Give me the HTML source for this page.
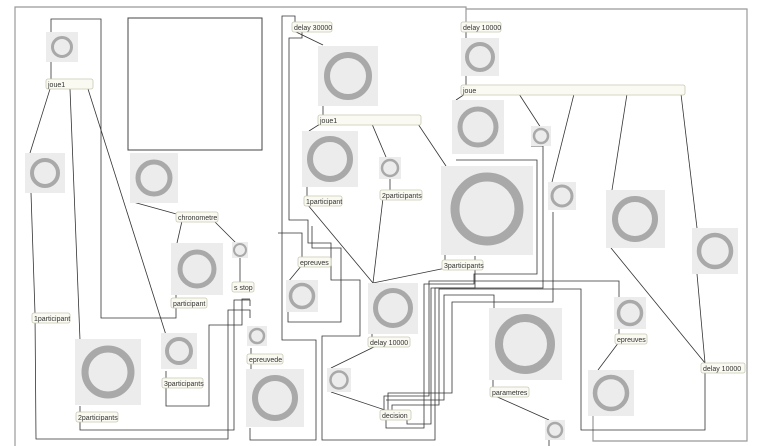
<!DOCTYPE html>
<html><head><meta charset="utf-8"><style>
html,body{margin:0;padding:0;background:#fff;}
svg{display:block;}
text{font-family:"Liberation Sans",sans-serif;font-size:7px;fill:#333;}
.o{fill:#fafaf2;stroke:#c9c9b5;stroke-width:0.8;}
.bg{fill:#ececec;}
.r{fill:none;stroke:#a9a9a9;}
.w{fill:none;stroke:#333;stroke-width:0.8;}
.f{fill:none;stroke:#999;stroke-width:1.2;}
</style></head><body>
<svg width="768" height="446" viewBox="0 0 768 446" xmlns="http://www.w3.org/2000/svg">
<!-- frames -->
<polyline class="f" points="15,446 15,7 466,7 466,22"/>
<polyline class="f" points="466,9 747,9 747,441 593,441 593,416"/>
<rect x="128" y="18" width="134" height="132" fill="none" stroke="#444" stroke-width="1"/>

<!-- wires -->
<g class="w">
<polyline points="51,79 51,19 101,19 101,318 176,318 176,306"/>
<line x1="50" y1="89" x2="30" y2="153"/>
<line x1="70" y1="89" x2="80" y2="340"/>
<line x1="88" y1="89" x2="166" y2="335"/>
<polyline points="31,193 35,313 36,439 228,439 228,310 250,310 250,318"/>
<polyline points="80,420 80,430 234,430 234,300 250,300 250,306"/>
<polyline points="166,386 166,406 209,406 209,325 242,325 242,299 250,299"/>
<line x1="133" y1="202" x2="180" y2="215"/>
<line x1="214" y1="221" x2="236" y2="243"/>
<line x1="182" y1="221" x2="177" y2="243"/>
<line x1="240" y1="258" x2="240" y2="282"/>
<line x1="176" y1="295" x2="176" y2="298"/>
<line x1="166" y1="371" x2="166" y2="378"/>
<line x1="80" y1="406" x2="80" y2="412"/>
<line x1="251" y1="348" x2="251" y2="354"/>
<line x1="251" y1="362" x2="251" y2="370"/>
<polyline points="295,22 295,16 282,16 282,340 316,340 316,440 250,440 250,428"/>
<line x1="294" y1="31" x2="323" y2="45"/>
<polyline points="302,31 302,38 289,38 289,220 308,220 308,243 331,243 331,280 360,280 360,336 322,336 322,440 435,440 435,288 475,288 475,256"/>
<polyline points="278,233 302,233 302,257"/>
<polyline points="288,312 288,322 341,322 341,248 312,248 312,226"/>
<line x1="302" y1="265" x2="288" y2="282"/>
<line x1="323" y1="106" x2="323" y2="115"/>
<line x1="320" y1="124" x2="309" y2="131"/>
<line x1="372" y1="124" x2="386" y2="157"/>
<line x1="418" y1="124" x2="446" y2="166"/>
<line x1="307" y1="187" x2="307" y2="196"/>
<line x1="390" y1="179" x2="390" y2="190"/>
<line x1="307" y1="204" x2="373" y2="283"/>
<line x1="383" y1="198" x2="373" y2="283"/>
<line x1="446" y1="268" x2="373" y2="283"/>
<line x1="445" y1="255" x2="445" y2="260"/>
<line x1="372" y1="334" x2="372" y2="337"/>
<line x1="378" y1="345" x2="331" y2="368"/>
<line x1="331" y1="392" x2="385" y2="410"/>
<line x1="493" y1="395" x2="549" y2="420"/>
<line x1="493" y1="380" x2="493" y2="387"/>
<line x1="549" y1="440" x2="549" y2="446"/>
<!-- decision bundle -->
<polyline points="456,160 537,160 537,274 474,274 474,284 424,284 424,428 386,428 386,418"/>
<polyline points="531,146 543,146 543,288 431,288 431,424 407,424 407,418"/>
<polyline points="553,212 553,302 452,302 452,393 388,393 388,410"/>
<polyline points="619,297 619,281 429,281 429,396 384,396 384,410"/>
<polyline points="705,371 705,430 581,430 581,289 439,289 439,405 392,405 392,410"/>
<polyline points="494,308 494,295 444,295 444,400 386,400"/>
<!-- right -->
<line x1="466" y1="30" x2="466" y2="38"/>
<line x1="466" y1="76" x2="466" y2="85"/>
<line x1="465" y1="94" x2="456" y2="100"/>
<line x1="519" y1="94" x2="541" y2="128"/>
<line x1="574" y1="94" x2="552" y2="182"/>
<line x1="627" y1="94" x2="612" y2="190"/>
<line x1="681" y1="94" x2="697" y2="228"/>
<line x1="697" y1="274" x2="705" y2="363"/>
<line x1="611" y1="248" x2="705" y2="363"/>
<line x1="619" y1="329" x2="619" y2="334"/>
<line x1="619" y1="342" x2="598" y2="370"/>
</g>

<!-- buttons -->
<g>
<rect class="bg" x="46" y="32" width="32" height="30"/><circle class="r" cx="62" cy="47" r="9.5" stroke-width="3"/>
<rect class="bg" x="25" y="153" width="40" height="40"/><circle class="r" cx="45" cy="173" r="13" stroke-width="4"/>
<rect class="bg" x="130" y="153" width="48" height="50"/><circle class="r" cx="154" cy="178" r="16" stroke-width="5"/>
<rect class="bg" x="171" y="243" width="52" height="52"/><circle class="r" cx="197" cy="269" r="17" stroke-width="5"/>
<rect class="bg" x="232" y="242" width="16" height="16"/><circle class="r" cx="240" cy="250" r="6" stroke-width="2"/>
<rect class="bg" x="161" y="333" width="36" height="36"/><circle class="r" cx="179" cy="351" r="12" stroke-width="4"/>
<rect class="bg" x="75" y="339" width="66" height="66"/><circle class="r" cx="108" cy="372" r="23" stroke-width="7"/>
<rect class="bg" x="247" y="326" width="20" height="20"/><circle class="r" cx="257" cy="336" r="7" stroke-width="2.5"/>
<rect class="bg" x="246" y="369" width="58" height="58"/><circle class="r" cx="275" cy="398" r="20" stroke-width="6"/>
<rect class="bg" x="318" y="46" width="60" height="60"/><circle class="r" cx="348" cy="76" r="21" stroke-width="6"/>
<rect class="bg" x="302" y="131" width="56" height="56"/><circle class="r" cx="330" cy="159" r="20" stroke-width="6"/>
<rect class="bg" x="379" y="157" width="22" height="22"/><circle class="r" cx="390" cy="168" r="8" stroke-width="2.5"/>
<rect class="bg" x="286" y="280" width="32" height="32"/><circle class="r" cx="302" cy="296" r="11.5" stroke-width="3.5"/>
<rect class="bg" x="368" y="283" width="50" height="51"/><circle class="r" cx="393" cy="308" r="17.5" stroke-width="5"/>
<rect class="bg" x="327" y="368" width="24" height="24"/><circle class="r" cx="339" cy="380" r="8.5" stroke-width="2.5"/>
<rect class="bg" x="441" y="166" width="92" height="89"/><circle class="r" cx="487" cy="209" r="32" stroke-width="9"/>
<rect class="bg" x="461" y="38" width="38" height="38"/><circle class="r" cx="480" cy="57" r="13" stroke-width="4"/>
<rect class="bg" x="452" y="100" width="52" height="54"/><circle class="r" cx="478" cy="127" r="18" stroke-width="5"/>
<rect class="bg" x="531" y="126" width="20" height="20"/><circle class="r" cx="541" cy="136" r="7" stroke-width="2.5"/>
<rect class="bg" x="548" y="182" width="28" height="28"/><circle class="r" cx="562" cy="196" r="10" stroke-width="3"/>
<rect class="bg" x="606" y="190" width="59" height="58"/><circle class="r" cx="635" cy="219" r="20" stroke-width="6"/>
<rect class="bg" x="692" y="228" width="46" height="46"/><circle class="r" cx="715" cy="251" r="16" stroke-width="4.5"/>
<rect class="bg" x="489" y="308" width="73" height="72"/><circle class="r" cx="525" cy="344" r="26" stroke-width="8"/>
<rect class="bg" x="614" y="297" width="32" height="32"/><circle class="r" cx="630" cy="313" r="11.5" stroke-width="3.5"/>
<rect class="bg" x="588" y="370" width="46" height="46"/><circle class="r" cx="611" cy="393" r="16" stroke-width="4.5"/>
<rect class="bg" x="545" y="420" width="20" height="20"/><circle class="r" cx="555" cy="430" r="7" stroke-width="2.5"/>
</g>

<!-- objects -->
<g>
<rect class="o" x="46" y="79" width="47" height="10" rx="2"/><text x="48" y="87">joue1</text>
<rect class="o" x="176" y="212" width="42" height="10" rx="2"/><text x="178" y="220">chronometre</text>
<rect class="o" x="232" y="282" width="22" height="10" rx="2"/><text x="234" y="290">s stop</text>
<rect class="o" x="171" y="298" width="36" height="10" rx="2"/><text x="173" y="306">participant</text>
<rect class="o" x="32" y="313" width="38" height="10" rx="2"/><text x="34" y="321">1participant</text>
<rect class="o" x="162" y="378" width="41" height="10" rx="2"/><text x="164" y="386">3participants</text>
<rect class="o" x="76" y="412" width="42" height="10" rx="2"/><text x="78" y="420">2participants</text>
<rect class="o" x="247" y="354" width="36" height="10" rx="2"/><text x="249" y="362">epreuvede</text>
<rect class="o" x="292" y="22" width="40" height="10" rx="2"/><text x="294" y="30">delay 30000</text>
<rect class="o" x="318" y="115" width="103" height="10" rx="2"/><text x="320" y="123">joue1</text>
<rect class="o" x="304" y="196" width="38" height="10" rx="2"/><text x="306" y="204">1participant</text>
<rect class="o" x="380" y="190" width="42" height="10" rx="2"/><text x="382" y="198">2participants</text>
<rect class="o" x="298" y="257" width="33" height="10" rx="2"/><text x="300" y="265">epreuves</text>
<rect class="o" x="442" y="260" width="41" height="10" rx="2"/><text x="444" y="268">3participants</text>
<rect class="o" x="368" y="337" width="42" height="10" rx="2"/><text x="370" y="345">delay 10000</text>
<rect class="o" x="380" y="410" width="31" height="10" rx="2"/><text x="382" y="418">decision</text>
<rect class="o" x="490" y="387" width="39" height="10" rx="2"/><text x="492" y="395">parametres</text>
<rect class="o" x="615" y="334" width="32" height="10" rx="2"/><text x="617" y="342">epreuves</text>
<rect class="o" x="701" y="363" width="44" height="10" rx="2"/><text x="703" y="371">delay 10000</text>
<rect class="o" x="461" y="22" width="40" height="10" rx="2"/><text x="463" y="30">delay 10000</text>
<rect class="o" x="461" y="85" width="224" height="10" rx="2"/><text x="463" y="93">joue</text>
</g>
</svg>
</body></html>
